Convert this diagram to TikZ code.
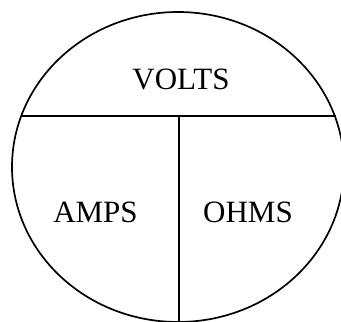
\documentclass[tikz,border=0pt]{standalone}
\usepackage{fontspec}
\setmainfont{Liberation Serif}
\begin{document}
\begin{tikzpicture}[
  x=1pt, y=-1pt,
  line width=1.7pt,
  every node/.style={font=\fontsize{31}{36}\selectfont, inner sep=0pt},
  divider/.style={draw, line width=1.7pt}
]
\useasboundingbox (0,0) rectangle (341,322);
\clip (0,0) rectangle (341,322);
\draw (178,167) ellipse [x radius=166, y radius=155];
\coordinate (left) at (21,116);
\coordinate (right) at (336,116);
\coordinate (mid) at (179,116);
\coordinate (bottom) at (179,330);
\draw[divider] (left) -- (right);
\draw[divider] (mid) -- (bottom);
\node (volts) at (181,79) {VOLTS};
\node (amps) at (95.5,212) {AMPS};
\node (ohms) at (248,212) {OHMS};
\end{tikzpicture}
\end{document}
